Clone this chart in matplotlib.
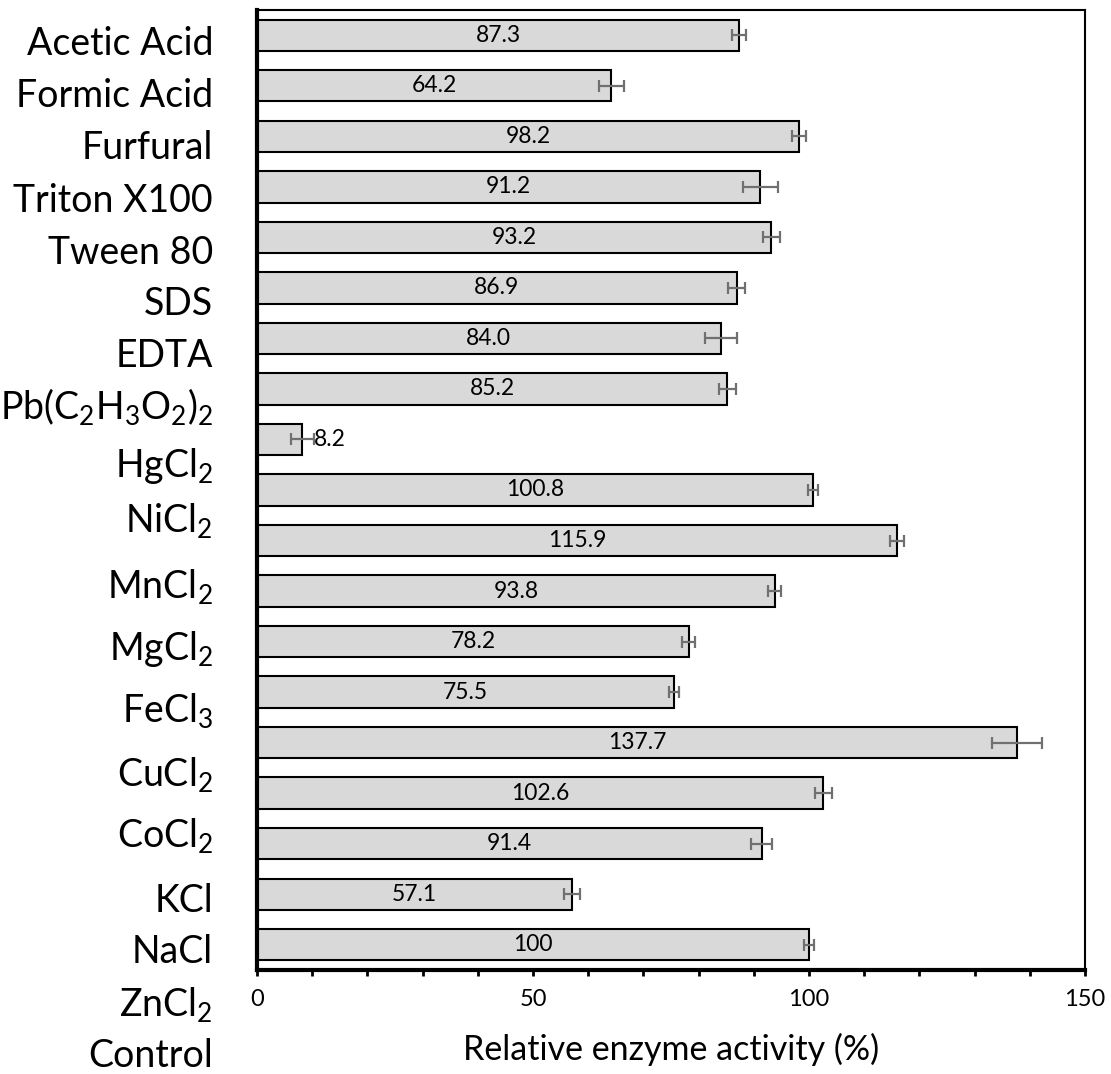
import numpy as np
import matplotlib
matplotlib.use("Agg")
import matplotlib.pyplot as plt

plt.rcParams['font.family'] = ['Lato', 'DejaVu Sans']
plt.rcParams['mathtext.fontset'] = 'custom'
plt.rcParams['mathtext.rm'] = 'Lato'

# data, top bar first
labels = ["Acetic Acid", "Formic Acid", "Furfural", "Triton X100", "Tween 80",
          "SDS", "EDTA", r"Pb(C$_\mathregular{2}$H$_\mathregular{3}$O$_\mathregular{2}$)$_\mathregular{2}$",
          r"HgCl$_\mathregular{2}$", r"NiCl$_\mathregular{2}$", r"MnCl$_\mathregular{2}$",
          r"MgCl$_\mathregular{2}$", r"FeCl$_\mathregular{3}$", r"CuCl$_\mathregular{2}$",
          r"CoCl$_\mathregular{2}$", "KCl", "NaCl", r"ZnCl$_\mathregular{2}$", "Control"]
values = [87.3, 64.2, 98.2, 91.2, 93.2, 86.9, 84.0, 85.2, 8.2, 100.8,
          115.9, 93.8, 78.2, 75.5, 137.7, 102.6, 91.4, 57.1, 100]
value_text = ["87.3", "64.2", "98.2", "91.2", "93.2", "86.9", "84.0", "85.2", "8.2", "100.8",
              "115.9", "93.8", "78.2", "75.5", "137.7", "102.6", "91.4", "57.1", "100"]
errors = [1.3, 2.3, 1.2, 3.1, 1.5, 1.5, 2.9, 1.5, 2.1, 0.9,
          1.3, 1.2, 1.2, 0.9, 4.5, 1.6, 1.9, 1.5, 0.9]

# label baselines in pixels from top (the text column is not aligned with the bars)
label_base = [55, 107, 159, 212, 264, 315, 367, 420, 477, 533,
              599, 660, 723, 787, 848, 912, 963, 1017, 1067]

W, H = 1111, 1074
fig = plt.figure(figsize=(W / 100, H / 100), dpi=100)
ax = fig.add_axes([257 / W, 1 - 970 / H, (1085 - 257) / W, 960 / H])

y = np.arange(len(values))
ax.barh(y, values, height=0.62, color='#d9d9d9', edgecolor='black', linewidth=1.5)
ax.errorbar(values, y, xerr=errors, fmt='none', ecolor='#707070', elinewidth=1.6,
            capsize=4, capthick=1.6)

for yi, v, e, t in zip(y, values, errors, value_text):
    if v < 15:
        ax.text(v + e, yi, t, ha='left', va='center', fontsize=16.5)
    else:
        ax.text(v / 2, yi, t, ha='center', va='center', fontsize=16.5)

ax.set_xlim(0, 150)
ax.set_ylim(len(values) - 0.5, -0.5)
ax.set_yticks([])
ax.set_xticks([0, 50, 100, 150])
ax.set_xticks(np.arange(10, 150, 10), minor=True)
ax.tick_params(axis='x', which='both', direction='out', length=4.5, width=2, labelsize=17, pad=9)
for s in ['left', 'bottom']:
    ax.spines[s].set_linewidth(3)
for s in ['top', 'right']:
    ax.spines[s].set_linewidth(1.5)
ax.set_xlabel("Relative enzyme activity (%)", fontsize=24.5, labelpad=17)

for lab, b in zip(labels, label_base):
    fig.text(213 / W, 1 - b / H, lab, ha='right', va='baseline', fontsize=27)

fig.savefig("out.png", dpi=100)
